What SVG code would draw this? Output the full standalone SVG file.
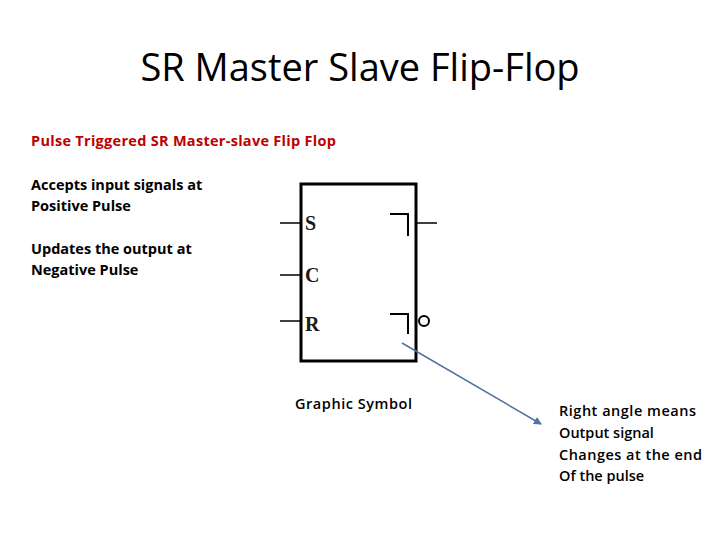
<svg xmlns="http://www.w3.org/2000/svg" width="720" height="540" viewBox="0 0 720 540">
<style>
.t{font-family:"Open Sans","Noto Sans",sans-serif;font-size:14.5px;font-weight:bold;fill:#000}
.n{font-weight:600}
.r{fill:#c00000}
.s{font-family:"Liberation Serif",serif;font-size:20px;font-weight:bold;fill:#1a1a1a}
.l{stroke:#000;stroke-width:1.5;fill:none}
.m{stroke:#000;stroke-width:2;fill:none}
</style>
<defs><marker id="a" markerWidth="8" markerHeight="8" refX="7" refY="4" orient="auto" markerUnits="userSpaceOnUse"><path d="M0,0 L8,4 L0,8 Z" fill="#4f74a0"/></marker></defs>
<rect width="720" height="540" fill="#fff"/>
<text x="360" y="81" text-anchor="middle" font-family="'Open Sans','Noto Sans',sans-serif" font-size="38">SR Master Slave Flip-Flop</text>
<text class="t r" x="31" y="146" textLength="305">Pulse Triggered SR Master-slave Flip Flop</text>
<text class="t" x="31" y="190">Accepts input signals at</text>
<text class="t" x="31" y="211">Positive Pulse</text>
<text class="t" x="31" y="254">Updates the output at</text>
<text class="t" x="31" y="275">Negative Pulse</text>
<g id="ff">
<rect x="301" y="184" width="115" height="177" fill="none" stroke="#000" stroke-width="3"/>
<path class="l" d="M280,223H301M280,275H301M280,321H301M417,223H437"/>
<text class="s" x="305" y="230">S</text>
<text class="s" x="305" y="282">C</text>
<text class="s" x="305" y="331">R</text>
<path class="m" d="M390,214H408V236M390,314H408V334"/>
<circle cx="424" cy="321" r="5" fill="none" stroke="#000" stroke-width="2"/>
</g>
<text class="t n" x="295" y="409" textLength="117">Graphic Symbol</text>
<g id="connectors"><line x1="402" y1="343" x2="541" y2="424" stroke="#4f74a0" stroke-width="1.5" marker-end="url(#a)"/></g>
<g id="note">
<text class="t n" x="559" y="416" textLength="137">Right angle means</text>
<text class="t n" x="559" y="438">Output signal</text>
<text class="t n" x="559" y="460" textLength="143">Changes at the end</text>
<text class="t n" x="559" y="481">Of the pulse</text>
</g>
</svg>
